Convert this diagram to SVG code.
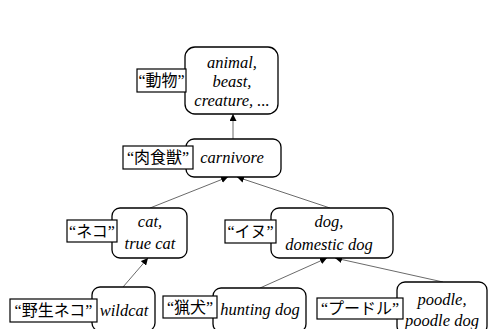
<svg xmlns="http://www.w3.org/2000/svg" width="488" height="329" viewBox="0 0 488 329">
  <style>
    .node { fill: #fff; stroke: #000; stroke-width: 1.3; }
    .tag { fill: #fff; stroke: #000; stroke-width: 1.2; }
    .en { font-style: italic; font-size: 16.5px; fill: #000; text-anchor: middle; }
    .jp { font-size: 16px; fill: #000; text-anchor: middle; }
    .edge { stroke: #444; stroke-width: 0.8; fill: none; marker-end: url(#arrow); }
  </style>
  <defs>
    <marker id="arrow" viewBox="0 0 10 10" refX="10" refY="5" markerWidth="7" markerHeight="7" markerUnits="userSpaceOnUse" orient="auto">
      <path d="M0,0 L10,5 L0,10 z" fill="#000"/>
    </marker>
  </defs>
  <rect width="488" height="329" fill="#fff"/>

  <g id="connectors">
    <line class="edge" x1="233" y1="139" x2="233" y2="114"/>
    <line class="edge" x1="150" y1="208" x2="228" y2="177"/>
    <line class="edge" x1="330" y1="208" x2="237" y2="177"/>
    <line class="edge" x1="123" y1="287" x2="148" y2="258"/>
    <line class="edge" x1="260" y1="288" x2="327" y2="258"/>
    <line class="edge" x1="443" y1="282" x2="335" y2="258"/>
  </g>

  <g font-family="Liberation Serif, Noto Sans CJK JP, serif">
  <g id="animal">
    <rect class="node" x="185" y="47" width="93" height="67" rx="10"/>
    <text class="en" x="232" y="68">animal,</text>
    <text class="en" x="232" y="87">beast,</text>
    <text class="en" x="232" y="106">creature, ...</text>
    <rect class="tag" x="137" y="69" width="49" height="23"/>
    <text class="jp" x="161.5" y="86">“動物”</text>
  </g>

  <g id="carnivore">
    <rect class="node" x="186" y="139" width="95" height="38" rx="8"/>
    <text class="en" x="232" y="163">carnivore</text>
    <rect class="tag" x="123" y="146" width="70" height="23"/>
    <text class="jp" x="158" y="163">“肉食獣”</text>
  </g>

  <g id="cat">
    <rect class="node" x="112" y="208" width="75" height="50" rx="8"/>
    <text class="en" x="150" y="227">cat,</text>
    <text class="en" x="150" y="249">true cat</text>
    <rect class="tag" x="67" y="220" width="50" height="22"/>
    <text class="jp" x="92" y="237">“ネコ”</text>
  </g>

  <g id="dog">
    <rect class="node" x="271" y="208" width="122" height="50" rx="8"/>
    <text class="en" x="329" y="227">dog,</text>
    <text class="en" x="329" y="250">domestic dog</text>
    <rect class="tag" x="225" y="220" width="51" height="23"/>
    <text class="jp" x="250.5" y="237">“イヌ”</text>
  </g>

  <g id="wildcat">
    <rect class="node" x="92" y="287" width="63" height="44" rx="8"/>
    <text class="en" x="124" y="316">wildcat</text>
    <rect class="tag" x="10" y="299" width="87" height="23"/>
    <text class="jp" x="53.5" y="316">“野生ネコ”</text>
  </g>

  <g id="hunting-dog">
    <rect class="node" x="213" y="288" width="93" height="44" rx="8"/>
    <text class="en" x="260" y="315">hunting dog</text>
    <rect class="tag" x="163" y="296" width="54" height="22"/>
    <text class="jp" x="190" y="313">“猟犬”</text>
  </g>

  <g id="poodle">
    <rect class="node" x="397" y="282" width="90" height="52" rx="8"/>
    <text class="en" x="442" y="305">poodle,</text>
    <text class="en" x="442" y="326">poodle dog</text>
    <rect class="tag" x="317" y="298" width="86" height="21"/>
    <text class="jp" x="360" y="314">“プードル”</text>
  </g>
  </g>
</svg>
